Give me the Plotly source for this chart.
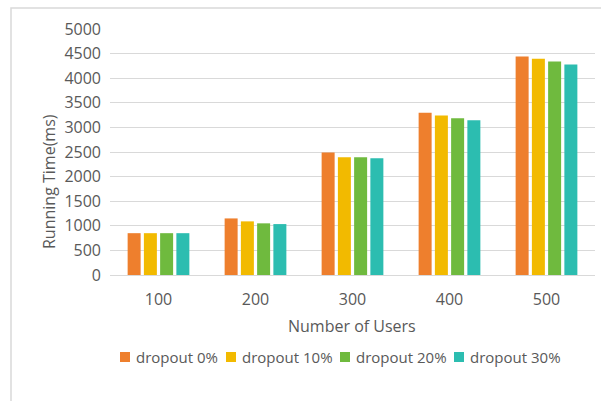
import plotly.graph_objects as go

categories = ["100", "200", "300", "400", "500"]
series_names = ["dropout 0%", "dropout 10%", "dropout 20%", "dropout 30%"]
dropout_0 = [850, 1150, 2490, 3300, 4440]
dropout_10 = [850, 1090, 2395, 3240, 4395]
dropout_20 = [850, 1050, 2395, 3185, 4340]
dropout_30 = [850, 1035, 2375, 3145, 4280]
series_values = [dropout_0, dropout_10, dropout_20, dropout_30]
colors = ["#EE7F2D", "#F2BA00", "#6FBA3E", "#2CBDB0"]
y_ticks = [0, 500, 1000, 1500, 2000, 2500, 3000, 3500, 4000, 4500, 5000]

FONT = "Open Sans"
FS = 16
TXT = "#595959"
W, H = 601, 401
ML, MR, MT, MB = 110, 6, 29, 126
PW = W - ML - MR
PH = H - MT - MB

def px2x(p):
    return (p - ML) / PW

def px2y(p):
    return (H - MB - p) / PH

fig = go.Figure()
for name, vals, col in zip(series_names, series_values, colors):
    fig.add_trace(go.Bar(x=categories, y=vals, name=name, showlegend=False,
                         marker=dict(color=col, line=dict(width=0))))

# custom legend (square swatch + label), laid out like the reference
legend_square_left = [120, 226, 340, 454]
annotations = [
    dict(text="Number of Users", xref="paper", yref="paper", x=px2x(352), y=px2y(326),
         xanchor="center", yanchor="middle", showarrow=False,
         font=dict(family=FONT, size=FS, color=TXT)),
    dict(text="Running Time(ms)", xref="paper", yref="paper", x=px2x(49), y=px2y(182),
         xanchor="center", yanchor="middle", showarrow=False, textangle=-90,
         font=dict(family=FONT, size=FS, color=TXT)),
]
shapes = [
    dict(type="rect", xref="paper", yref="paper", x0=px2x(11), x1=px2x(650), y0=px2y(450), y1=px2y(8),
         line=dict(color="#D9D9D9", width=1.5), fillcolor="rgba(0,0,0,0)", layer="below"),
]
for name, col, sx in zip(series_names, colors, legend_square_left):
    shapes.append(dict(type="rect", xref="paper", yref="paper", x0=px2x(sx), x1=px2x(sx + 10),
                       y0=px2y(362), y1=px2y(352), line=dict(width=0), fillcolor=col))
    annotations.append(dict(text=name, xref="paper", yref="paper", x=px2x(sx + 14), y=px2y(357),
                            xanchor="left", yanchor="middle", showarrow=False,
                            font=dict(family=FONT, size=15, color=TXT)))

fig.update_layout(
    width=W, height=H,
    margin=dict(l=ML, r=MR, t=MT, b=MB, pad=0),
    paper_bgcolor="white", plot_bgcolor="white",
    barmode="group", bargap=0.33, bargroupgap=0.2,
    font=dict(family=FONT, size=FS, color=TXT),
    showlegend=False,
    xaxis=dict(type="category", showgrid=False, showline=True, linecolor="#D9D9D9", linewidth=1,
               ticks="", ticklabelstandoff=10, tickfont=dict(family=FONT, size=FS, color=TXT)),
    yaxis=dict(range=[0, 5000], tickvals=y_ticks, showgrid=True, gridcolor="#D9D9D9", gridwidth=1,
               zeroline=False, showline=False, ticks="", ticklabelstandoff=8,
               tickfont=dict(family=FONT, size=FS, color=TXT)),
    annotations=annotations,
    shapes=shapes,
)

fig.write_html("out.html")
